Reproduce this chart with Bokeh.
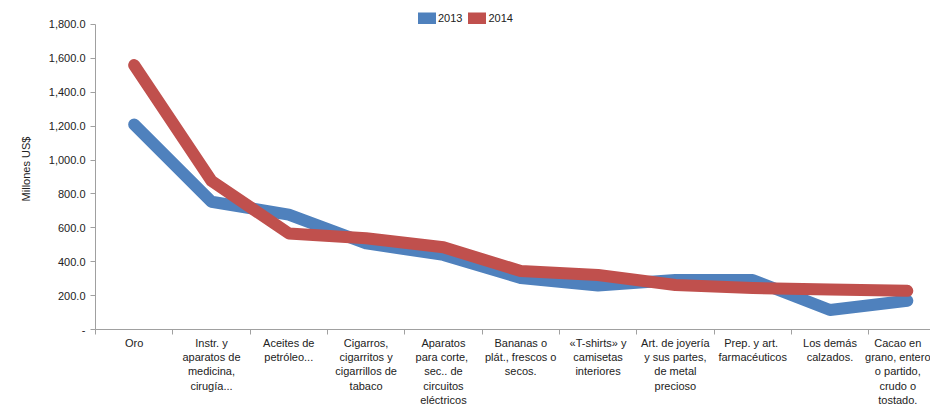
from bokeh.plotting import figure
from bokeh.models import (FixedTicker, NumeralTickFormatter, Range1d, Legend, LegendItem)
from bokeh.embed import file_html
from bokeh.resources import INLINE

categories = [
    "Oro",
    "Instr. y\naparatos de\nmedicina,\ncirugía...",
    "Aceites de\npetróleo...",
    "Cigarros,\ncigarritos y\ncigarrillos de\ntabaco",
    "Aparatos\npara  corte,\nsec.. de\ncircuitos\neléctricos",
    "Bananas o\nplát., frescos o\nsecos.",
    "«T-shirts» y\ncamisetas\ninteriores",
    "Art. de joyería\ny sus partes,\nde metal\nprecioso",
    "Prep.  y art.\nfarmacéuticos",
    "Los demás\ncalzados.",
    "Cacao en\ngrano, entero\no partido,\ncrudo o\ntostado.",
]
values_2013 = [1210, 754, 678, 508, 440, 304, 260, 292, 292, 115, 170]
values_2014 = [1560, 877, 567, 538, 485, 345, 322, 263, 245, 236, 228]
y_ticks = [0, 200, 400, 600, 800, 1000, 1200, 1400, 1600, 1800]

FONT = "Liberation Sans"
x = list(range(len(categories)))

p = figure(width=930, height=409, output_backend="svg", toolbar_location=None,
           x_range=Range1d(-0.5, 10.3), y_range=Range1d(0, 1894),
           min_border_left=95, min_border_right=0, min_border_top=8, min_border_bottom=0)
p.outline_line_color = None
p.xgrid.visible = False
p.ygrid.visible = False
p.background_fill_color = "white"

r13 = p.line(x, values_2013, line_width=12, color="#4F81BD", line_cap="round", line_join="round")
r14 = p.line(x, values_2014, line_width=12, color="#C0504D", line_cap="round", line_join="round")

# x axis
xa = p.xaxis[0]
xa.ticker = FixedTicker(ticks=x, minor_ticks=[i - 0.5 for i in range(len(categories) + 1)])
xa.major_label_overrides = {i: c for i, c in enumerate(categories)}
xa.major_tick_out = 0
xa.major_tick_in = 0
xa.minor_tick_out = 5
xa.minor_tick_in = 0
xa.minor_tick_line_color = "#A0A0A0"
xa.axis_line_color = "#A0A0A0"
xa.major_label_text_font = FONT
xa.major_label_text_font_size = "11px"
xa.major_label_text_color = "#222222"
xa.major_label_standoff = 2

# y axis
ya = p.yaxis[0]
ya.ticker = FixedTicker(ticks=y_ticks)
ya.formatter = NumeralTickFormatter(format="0,0.0")
ya.major_label_overrides = {0: "-"}
ya.bounds = (0, 1800)
ya.major_tick_out = 5
ya.major_tick_in = 0
ya.minor_tick_out = 0
ya.minor_tick_in = 0
ya.major_tick_line_color = "#A0A0A0"
ya.axis_line_color = "#A0A0A0"
ya.major_label_text_font = FONT
ya.major_label_text_font_size = "11px"
ya.major_label_text_color = "#222222"
ya.major_label_standoff = 5
ya.axis_label = "Millones US$"
ya.axis_label_text_font = FONT
ya.axis_label_text_font_size = "11px"
ya.axis_label_text_font_style = "normal"
ya.axis_label_text_color = "#222222"
ya.axis_label_standoff = 14

legend = Legend(items=[LegendItem(label="2013", renderers=[r13]),
                       LegendItem(label="2014", renderers=[r14])],
                orientation="horizontal", location=(323, 305),
                padding=2, margin=0, spacing=6,
                glyph_width=18, glyph_height=12, label_height=12,
                label_standoff=2,
                label_text_font=FONT, label_text_font_size="11px",
                label_text_color="#222222",
                border_line_color=None, background_fill_alpha=0)
p.add_layout(legend, "center")

open("out.html", "w").write(file_html(p, INLINE))
